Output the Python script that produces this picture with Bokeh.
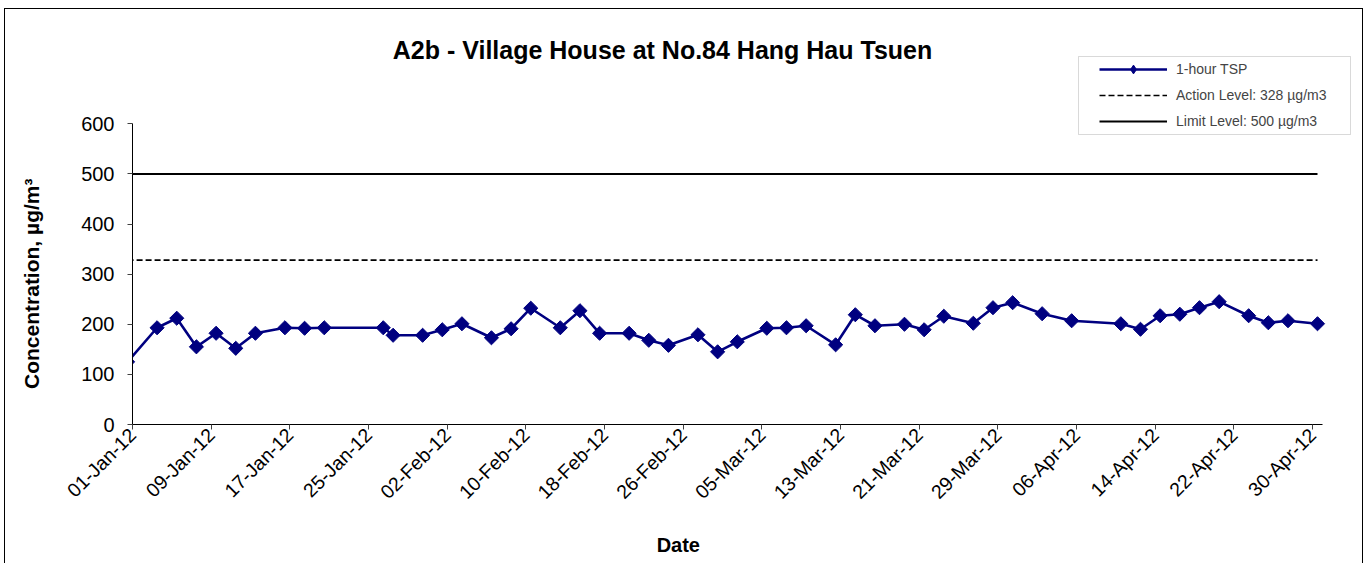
import math
import pandas as pd
from bokeh.plotting import figure
from bokeh.models import (Range1d, FixedTicker, DatetimeTickFormatter, Legend,
                          LegendItem, Label, BoxAnnotation)
from bokeh.embed import file_html
from bokeh.resources import INLINE

# ---------------- data ----------------
dates = [
    "2011-12-31 12:00", "2012-01-03 12:00", "2012-01-05 12:00", "2012-01-07 12:00",
    "2012-01-09 12:00", "2012-01-11 12:00", "2012-01-13 12:00", "2012-01-16 12:00",
    "2012-01-18 12:00", "2012-01-20 12:00", "2012-01-26 12:00", "2012-01-27 12:00",
    "2012-01-30 12:00", "2012-02-01 12:00", "2012-02-03 12:00", "2012-02-06 12:00",
    "2012-02-08 12:00", "2012-02-10 12:00", "2012-02-13 12:00", "2012-02-15 12:00",
    "2012-02-17 12:00", "2012-02-20 12:00", "2012-02-22 12:00", "2012-02-24 12:00",
    "2012-02-27 12:00", "2012-02-29 12:00", "2012-03-02 12:00", "2012-03-05 12:00",
    "2012-03-07 12:00", "2012-03-09 12:00", "2012-03-12 12:00", "2012-03-14 12:00",
    "2012-03-16 12:00", "2012-03-19 12:00", "2012-03-21 12:00", "2012-03-23 12:00",
    "2012-03-26 12:00", "2012-03-28 12:00", "2012-03-30 12:00", "2012-04-02 12:00",
    "2012-04-05 12:00", "2012-04-10 12:00", "2012-04-12 12:00", "2012-04-14 12:00",
    "2012-04-16 12:00", "2012-04-18 12:00", "2012-04-20 12:00", "2012-04-23 12:00",
    "2012-04-25 12:00", "2012-04-27 12:00", "2012-04-30 12:00",
]
tsp = [
    125, 193, 212, 155,
    182, 152, 182, 193,
    192, 193, 193, 178,
    178, 189, 201, 173,
    191, 232, 193, 227,
    182, 182, 168, 158,
    179, 145, 165, 192,
    193, 197, 159, 219,
    197, 200, 189, 216,
    202, 233, 243, 221,
    207, 201, 190, 217,
    220, 233, 245, 217,
    203, 207, 201,
]
action_level = 328
limit_level = 500

tick_dates = ["2012-01-01", "2012-01-09", "2012-01-17", "2012-01-25",
              "2012-02-02", "2012-02-10", "2012-02-18", "2012-02-26",
              "2012-03-05", "2012-03-13", "2012-03-21", "2012-03-29",
              "2012-04-06", "2012-04-14", "2012-04-22", "2012-04-30"]
y_ticks = [0, 100, 200, 300, 400, 500, 600]
axis_x_start, axis_x_end = "2012-01-01", "2012-05-01"
axis_y_start, axis_y_end = 0, 600

title_text = "A2b - Village House at No.84 Hang Hau Tsuen"
y_label = "Concentration, µg/m³"
x_label = "Date"
series_labels = ["1-hour TSP", "Action Level: 328 µg/m3", "Limit Level: 500 µg/m3"]

# ---------------- layout ----------------
FONT = "Liberation Sans"
FRAME_W, FRAME_H = 1223, 403
PX_PER_DAY = 9.818
PX_PER_UNIT = 0.5
NBSP = "\u00a0"

x = pd.to_datetime(dates)
ref_x = [x[0], x[-1]]
x0 = pd.Timestamp(axis_x_start)
x1 = x0 + pd.Timedelta(days=FRAME_W / PX_PER_DAY)
y1 = axis_y_start + FRAME_H / PX_PER_UNIT

p = figure(width=1359, height=555, x_axis_type="datetime",
           output_backend="svg", toolbar_location=None,
           x_range=Range1d(x0, x1), y_range=Range1d(axis_y_start, y1),
           min_border_left=127, min_border_right=7,
           min_border_top=11, min_border_bottom=140,
           styles={"border-top": "1px solid #000", "border-left": "1px solid #000",
                   "border-right": "1px solid #000",
                   "margin-left": "4px", "margin-top": "8px"})
p.outline_line_color = None
p.xgrid.visible = False
p.ygrid.visible = False
p.background_fill_color = "white"
p.border_fill_color = "white"

NAVY = "#000080"
r_lim = p.line(ref_x, [limit_level, limit_level], line_color="black", line_width=2)
r_act = p.line(ref_x, [action_level, action_level], line_color="black",
               line_width=1.6, line_dash="6 3")
r_line = p.line(x, tsp, line_color=NAVY, line_width=2.6)
r_pts = p.scatter(x, tsp, marker="square", angle=math.pi / 4, size=10,
                  fill_color=NAVY, line_color=NAVY)
# legend glyph: a diamond built on the first (off-axis, clipped) reading,
# so the legend shows a diamond symbol like the original
r_leg_marker = p.scatter(x=x[:1], y=tsp[:1], marker="diamond", size=11,
                         fill_color=NAVY, line_color=NAVY)

# axes
tick_ms = [float(v) for v in (pd.to_datetime(tick_dates).asi8 // 10**6)]
p.xaxis.ticker = FixedTicker(ticks=tick_ms)
fmt = "%d-%b-%y"
p.xaxis.formatter = DatetimeTickFormatter(milliseconds=fmt, seconds=fmt, minsec=fmt,
                                          minutes=fmt, hourmin=fmt, hours=fmt, days=fmt,
                                          months=fmt, years=fmt)
p.xaxis.major_label_orientation = math.pi / 4
p.xaxis.bounds = (pd.Timestamp(axis_x_start), pd.Timestamp(axis_x_end))
p.yaxis.ticker = FixedTicker(ticks=y_ticks)
p.yaxis.bounds = (axis_y_start, axis_y_end)

for ax in (p.xaxis[0], p.yaxis[0]):
    ax.axis_line_color = "black"
    ax.axis_line_width = 1
    ax.major_tick_line_color = "#404040"
    ax.major_tick_in = 0
    ax.major_tick_out = 5
    ax.minor_tick_line_color = None
    ax.major_label_text_font = FONT
    ax.major_label_text_color = "black"
    ax.axis_label_text_font = FONT
    ax.axis_label_text_font_style = "bold"
    ax.axis_label_text_color = "black"

p.yaxis.major_label_text_font_size = "20px"
p.yaxis.major_label_standoff = 13
# trailing no-break spaces keep the label centred on the 0-600 axis span
p.yaxis.axis_label = y_label + NBSP * 21
p.yaxis.axis_label_text_font_size = "21px"
p.yaxis.axis_label_standoff = 35
p.xaxis.major_label_text_font_size = "19.5px"
p.xaxis.major_label_standoff = 2
p.xaxis.axis_label = x_label + NBSP * 24
p.xaxis.axis_label_text_font_size = "20px"
p.xaxis.axis_label_standoff = 20

# title
p.add_layout(Label(x=530, y=375, x_units="screen", y_units="screen", text=title_text,
                   text_font=FONT, text_font_size="25px", text_font_style="bold",
                   text_align="center", text_baseline="middle", text_color="black"))

# legend
p.add_layout(BoxAnnotation(left=946, right=1218, bottom=290, top=368,
                           left_units="screen", right_units="screen",
                           bottom_units="screen", top_units="screen",
                           fill_color="white", fill_alpha=1,
                           line_color="#808080", line_width=1))
legend = Legend(items=[LegendItem(label=series_labels[0], renderers=[r_line, r_leg_marker]),
                       LegendItem(label=series_labels[1], renderers=[r_act]),
                       LegendItem(label=series_labels[2], renderers=[r_lim])],
                location=(967, 292), padding=0, margin=0, spacing=4,
                glyph_width=68, glyph_height=22, label_height=22, label_standoff=9,
                label_text_font=FONT, label_text_font_size="14px",
                border_line_alpha=0, background_fill_alpha=0)
p.add_layout(legend)

open("out.html", "w").write(file_html(p, INLINE))
